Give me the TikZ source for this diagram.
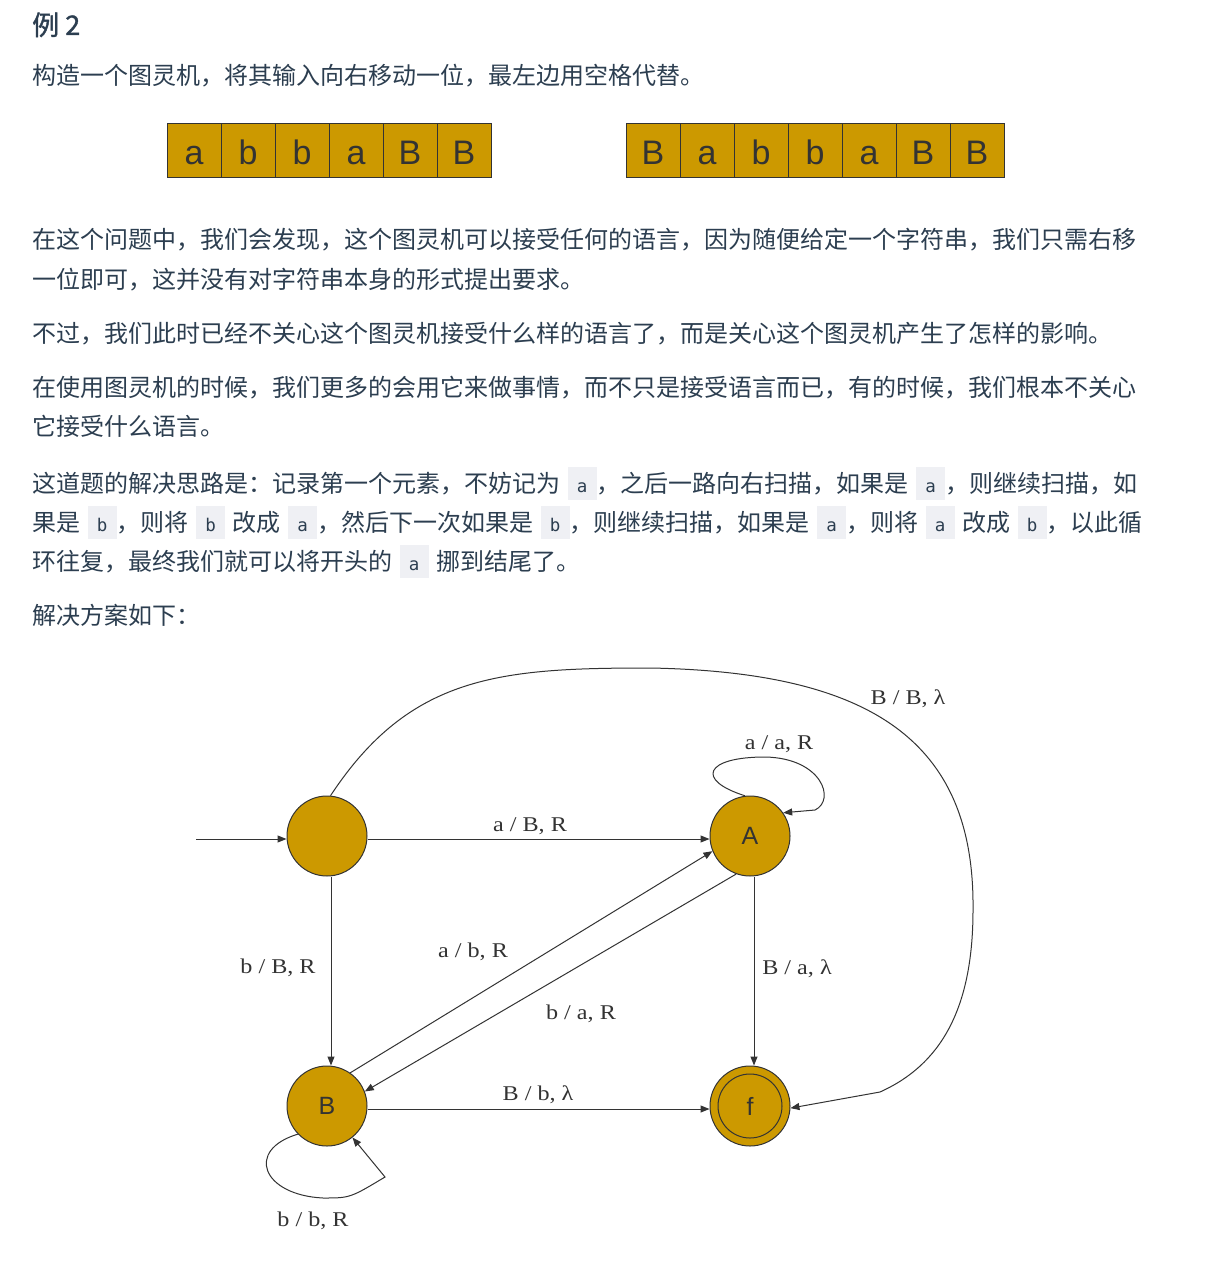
\documentclass[tikz,border=0pt]{standalone}
\usepackage{fontspec}
\usepackage{tikz}
\usetikzlibrary{arrows.meta}
\usepackage{tkz-euclide}
\setmainfont{Liberation Sans}
\newfontfamily\cjk{Noto Sans CJK SC}
\newfontfamily\cjkhead[FakeBold=1.2]{Noto Sans CJK SC}
\newfontfamily\lblfont[FakeStretch=1.15]{Liberation Serif}
\newfontfamily\codefont{DejaVu Sans Mono}
\definecolor{gold}{HTML}{CC9900}
\definecolor{ink}{HTML}{333333}
\definecolor{prose}{HTML}{2C3E50}
\definecolor{chipbg}{HTML}{EFF0F4}
\newcommand\inl[1]{{\setlength\fboxsep{0pt}\colorbox{chipbg}{\makebox[29pt]{\rule[-7.5pt]{0pt}{33pt}\codefont\fontsize{17.5}{18}\selectfont #1}}}}
\newcommand\gap{\hspace{7.5pt}}

\begin{document}
\begin{tikzpicture}[x=1pt,y=-1pt,
                cell/.style={draw=ink,fill=gold,line width=1pt,minimum width=54pt,minimum height=54pt,inner sep=0pt,text height=28pt,text depth=0pt,text=ink,font=\fontsize{34}{34}\selectfont},
                stt/.style={circle,draw=ink,fill=gold,line width=1pt,minimum size=80pt,inner sep=0pt,text=ink,font=\fontsize{25}{25}\selectfont},
                trans/.style={draw=ink,line width=1pt,-{Triangle[length=9pt,width=7pt]}},
                lbl/.style={anchor=base,inner sep=0pt,text=ink,font=\lblfont\fontsize{21}{21}\selectfont},
                prosetxt/.style={anchor=base west,inner sep=0pt,text=prose,font=\cjk\fontsize{24}{30}\selectfont}]
                \fill[white] (0,0) rectangle (1209,1265);
                \useasboundingbox (0,0) rectangle (1209,1265);
                \node[prosetxt,font=\cjkhead\fontsize{27}{30}\selectfont] (head) at (32,35) {例 2};
                \node[prosetxt] (task) at (32,85) {构造一个图灵机，将其输入向右移动一位，最左边用空格代替。};
                \foreach \ch [count=\i] in {a,b,b,a,B,B} \node[cell] (L\i) at (140+54*\i,151) {\ch};
                \foreach \ch [count=\i] in {B,a,b,b,a,B,B} \node[cell] (R\i) at (599+54*\i,151) {\ch};
                \node[prosetxt] (p1a) at (32,248) {在这个问题中，我们会发现，这个图灵机可以接受任何的语言，因为随便给定一个字符串，我们只需右移};
                \node[prosetxt] (p1b) at (32,288) {一位即可，这并没有对字符串本身的形式提出要求。};
                \node[prosetxt] (p2) at (32,342) {不过，我们此时已经不关心这个图灵机接受什么样的语言了，而是关心这个图灵机产生了怎样的影响。};
                \node[prosetxt] (p3a) at (32,396) {在使用图灵机的时候，我们更多的会用它来做事情，而不只是接受语言而已，有的时候，我们根本不关心};
                \node[prosetxt] (p3b) at (32,435) {它接受什么语言。};
                \node[prosetxt] (p4a) at (32,492) {这道题的解决思路是：记录第一个元素，不妨记为\gap\inl{a}，之后一路向右扫描，如果是\gap\inl{a}，则继续扫描，如};
                \node[prosetxt] (p4b) at (32,531) {果是\gap\inl{b}，则将\gap\inl{b}\gap{}改成\gap\inl{a}，然后下一次如果是\gap\inl{b}，则继续扫描，如果是\gap\inl{a}，则将\gap\inl{a}\gap{}改成\gap\inl{b}，以此循};
                \node[prosetxt] (p4c) at (32,570) {环往复，最终我们就可以将开头的\gap\inl{a}\gap{}挪到结尾了。};
                \node[prosetxt] (p5) at (32,624) {解决方案如下：};
                \tkzDefPoints{327/836/Q_0, 750/836/Q_A, 327/1106/Q_B, 750/1106/Q_f, 196/839/S_0}
                \node[stt] (q0) at (Q_0) {};
                \node[stt] (A) at (Q_A) {A};
                \node[stt] (B) at (Q_B) {B};
                \node[stt] (f) at (Q_f) {f};
                \draw[ink,line width=1pt] (f.center) circle[radius=32pt];
                \draw[trans] (S_0) -- ([yshift=-3pt]q0.west);
                \draw[trans] ([yshift=-3pt]q0.east) -- ([yshift=-3pt]A.west);
                \draw[trans] ([xshift=4pt]q0.south) -- ([xshift=4pt]B.north);
                \draw[trans] ([xshift=4pt]A.south) -- ([xshift=4pt]f.north);
                \draw[trans] ([yshift=-3pt]B.east) -- ([yshift=-3pt]f.west);
                \draw[trans] (B.55) -- (A.202);
                \draw[trans] (A.250) -- (B.21);
                \draw[trans] (A.97) .. controls (695,780) and (705,757) .. (765,757) .. controls (822,758) and (836,800) .. (815,810) -- (A.35);
                \draw[trans] (B.224) .. controls (245,1150) and (262,1195) .. (323,1198) .. controls (350,1198) .. (385,1177) -- (B.309);
                \draw[trans] (q0.85) .. controls (410,675) and (500,668) .. (650,668) .. controls (870,672) and (975,740) .. (973,910) .. controls (973,1010) and (940,1065) .. (880,1092) -- (f.-3);
                \node[lbl] (l_aBR) at (530,831) {a / B, R};
                \node[lbl] (l_aaR) at (779,749) {a / a, R};
                \node[lbl] (l_BBl) at (908,704) {B / B, λ};
                \node[lbl] (l_bBR) at (278,973) {b / B, R};
                \node[lbl] (l_Bal) at (797,974) {B / a, λ};
                \node[lbl] (l_abR) at (473,957) {a / b, R};
                \node[lbl] (l_baR) at (581,1019) {b / a, R};
                \node[lbl] (l_Bbl) at (538,1100) {B / b, λ};
                \node[lbl] (l_bbR) at (313,1226) {b / b, R};
            \end{tikzpicture}
\end{document}
